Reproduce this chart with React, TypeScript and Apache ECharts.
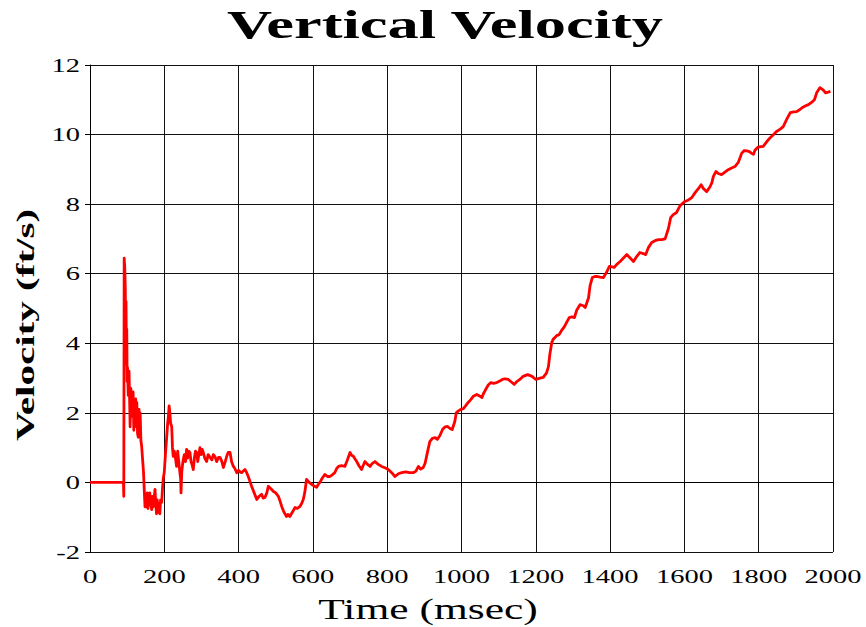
import React, { useEffect, useRef } from "react";
import * as echarts from "echarts";

const timeMs: number[] = [
  0, 90, 91, 92, 93.5, 95, 96, 97, 98, 99, 100, 101, 103, 105, 107, 108, 110, 112, 114, 116, 118, 119, 121,
  123, 124, 126, 128, 130, 132, 133, 135, 137, 139, 142, 144, 146, 148, 150, 152, 154, 156, 158, 161, 163,
  166, 168, 170, 172, 175, 177, 179, 181, 184, 186, 188, 190, 193, 195, 197, 200, 203, 206, 209, 211, 213,
  215, 217, 220, 222, 224, 227, 230, 233, 236, 239, 242, 244, 245, 247, 249, 251, 254, 257, 260, 263, 266,
  269, 272, 275, 278, 281, 284, 287, 290, 293, 296, 299, 302, 305, 309, 314, 318, 323, 328, 332, 336, 341,
  346, 350, 355, 359, 364, 368, 372, 377, 381, 386, 390, 395, 400, 404, 408, 412, 417, 421, 426, 430, 435,
  442, 449, 455, 462, 466, 471, 476, 480, 487, 494, 500, 507, 512, 516, 522, 529, 533, 538, 545, 552, 558,
  565, 570, 574, 578, 583, 590, 597, 603, 610, 615, 619, 625, 632, 639, 646, 652, 659, 664, 669, 677, 686,
  693, 700, 704, 709, 713, 718, 724, 731, 736, 740, 747, 754, 760, 767, 776, 785, 794, 803, 812, 821, 830,
  839, 850, 860, 870, 877, 884, 890, 897, 902, 906, 910, 915, 922, 929, 935, 942, 949, 956, 962, 969, 975,
  982, 986, 991, 998, 1005, 1011, 1018, 1025, 1032, 1041, 1050, 1055, 1059, 1065, 1072, 1079, 1086, 1095,
  1104, 1110, 1117, 1126, 1135, 1142, 1149, 1157, 1166, 1178, 1190, 1200, 1211, 1220, 1229, 1234, 1238,
  1243, 1247, 1252, 1256, 1263, 1270, 1277, 1283, 1290, 1297, 1304, 1310, 1319, 1328, 1333, 1337, 1342,
  1346, 1352, 1359, 1366, 1373, 1382, 1391, 1398, 1404, 1411, 1418, 1427, 1436, 1445, 1454, 1463, 1472,
  1480, 1489, 1496, 1503, 1512, 1521, 1530, 1539, 1548, 1557, 1563, 1570, 1579, 1588, 1600, 1611, 1620,
  1629, 1638, 1645, 1651, 1660, 1669, 1674, 1678, 1685, 1691, 1700, 1709, 1718, 1727, 1736, 1745, 1750,
  1754, 1761, 1768, 1775, 1781, 1786, 1790, 1797, 1803, 1812, 1822, 1831, 1840, 1848, 1857, 1866, 1876,
  1885, 1894, 1902, 1911, 1918, 1925, 1934, 1943, 1950, 1956, 1965, 1974, 1980, 1987, 1993, 2000,
];

const velocity: number[] = [
  0, 0, -0.4, 6.45, 6.2, 5.6, 4.1, 5.2, 3.4, 4.4, 2.9, 3.3, 2.5, 3.2, 2.2, 1.6, 2.7, 1.9, 2.4, 2.6, 1.5, 2.2, 1.6,
  2.4, 1.9, 2.3, 1.4, 1.3, 2.1, 1.5, 2.0, 1.2, 1.05, 0.6, 0.3, -0.2, -0.7, -0.4, -0.7, -0.3, -0.75, -0.4, -0.3, -0.6,
  -0.78, -0.4, -0.7, -0.5, -0.2, -0.6, -0.9, -0.5, -0.86, -0.6, -0.9, -0.5, -0.57, -0.2, 0.1, 0.3, 0.8, 1.24, 1.7, 1.9, 2.2,
  2.0, 1.7, 1.6, 1.0, 0.75, 0.9, 0.7, 0.46, 0.9, 0.6, 0.28, 0.1, -0.3, 0.3, 0.5, 0.66, 0.8, 0.6, 0.95, 0.7, 0.9,
  0.86, 0.6, 0.5, 0.37, 0.7, 0.9, 0.86, 0.6, 0.8, 1.0, 0.8, 0.95, 0.86, 0.7, 0.6, 0.8, 0.72, 0.65, 0.8, 0.75, 0.6,
  0.72, 0.72, 0.6, 0.43, 0.6, 0.75, 0.86, 0.86, 0.6, 0.46, 0.4, 0.28, 0.35, 0.3, 0.28, 0.32, 0.37, 0.3, 0.17, 0.05, -0.11,
  -0.3, -0.49, -0.4, -0.34, -0.45, -0.43, -0.3, -0.11, -0.18, -0.26, -0.3, -0.4, -0.55, -0.69, -0.85, -0.98, -0.92, -0.98, -0.85, -0.72, -0.75,
  -0.69, -0.6, -0.49, -0.3, 0.09, 0.0, -0.06, -0.1, -0.14, -0.05, 0, 0.12, 0.23, 0.17, 0.17, 0.22, 0.28, 0.4, 0.46, 0.48, 0.46,
  0.65, 0.86, 0.78, 0.75, 0.68, 0.6, 0.48, 0.37, 0.5, 0.6, 0.52, 0.46, 0.55, 0.6, 0.52, 0.46, 0.42, 0.37, 0.28, 0.17, 0.25,
  0.28, 0.3, 0.28, 0.28, 0.32, 0.46, 0.38, 0.43, 0.55, 0.75, 0.95, 1.18, 1.27, 1.29, 1.24, 1.35, 1.52, 1.6, 1.61, 1.55,
  1.52, 1.75, 2.0, 2.05, 2.1, 2.12, 2.2, 2.3, 2.38, 2.48, 2.53, 2.48, 2.44, 2.55, 2.67, 2.8, 2.87, 2.85,
  2.87, 2.92, 2.96, 2.98, 2.96, 2.88, 2.82, 2.9, 2.96, 3.05, 3.1, 3.05, 2.96, 3.0, 3.02, 3.15, 3.33,
  3.7, 4.02, 4.12, 4.17, 4.22, 4.25, 4.38, 4.48, 4.6, 4.74, 4.76, 4.74, 4.95, 5.11, 5.08, 5.03, 5.15,
  5.31, 5.65, 5.89, 5.92, 5.92, 5.9, 5.89, 6.05, 6.21, 6.2, 6.18, 6.27, 6.35, 6.45, 6.55, 6.45, 6.35,
  6.5, 6.61, 6.58, 6.55, 6.75, 6.9, 6.95, 6.98, 6.98, 7.0, 7.3, 7.61, 7.7, 7.76, 7.95, 8.07, 8.12,
  8.19, 8.33, 8.45, 8.56, 8.45, 8.36, 8.5, 8.62, 8.8, 8.94, 8.88, 8.85, 8.92, 8.99, 9.04, 9.08, 9.2,
  9.34, 9.46, 9.54, 9.53, 9.51, 9.46, 9.43, 9.55, 9.63, 9.65, 9.66, 9.8, 9.91, 10.0, 10.09, 10.15, 10.23,
  10.45, 10.63, 10.65, 10.66, 10.72, 10.78, 10.82, 10.86, 10.93, 11.0, 11.2, 11.35, 11.28, 11.2, 11.22, 11.24,
];

const xTicks: number[] = [0, 200, 400, 600, 800, 1000, 1200, 1400, 1600, 1800, 2000];
const yTicks: number[] = [-2, 0, 2, 4, 6, 8, 10, 12];

const titleText = "Vertical Velocity";
const xName = "Time (msec)";
const yName = "Velocity (ft/s)";

const SERIF = '"Liberation Serif", "Times New Roman", serif';

export default function App() {
  const ref = useRef<HTMLDivElement>(null);

  useEffect(() => {
    if (!ref.current) return;
    const chart = echarts.init(ref.current, null, { renderer: "svg" });
    const data = timeMs.map((t, i) => [t, velocity[i]]);

    chart.setOption({
      animation: false,
      backgroundColor: "#ffffff",
      grid: { left: 90, right: 33, top: 65, bottom: 75, containLabel: false },
      xAxis: {
        type: "value",
        min: 0,
        max: 2000,
        interval: 200,
        axisLine: { show: true, lineStyle: { color: "#000", width: 1 } },
        axisTick: { show: true, length: 4, lineStyle: { color: "#000" } },
        axisLabel: { show: false },
        splitLine: { show: true, lineStyle: { color: "#111", width: 1 } },
      },
      yAxis: {
        type: "value",
        min: -2,
        max: 12,
        interval: 2,
        axisLine: { show: true, lineStyle: { color: "#000", width: 1 } },
        axisTick: { show: true, length: 5, lineStyle: { color: "#000" } },
        axisLabel: { show: false },
        splitLine: { show: true, lineStyle: { color: "#111", width: 1 } },
      },
      series: [
        {
          type: "line",
          data,
          showSymbol: false,
          symbol: "none",
          lineStyle: { color: "#ff0000", width: 2.8, join: "round" },
          clip: true,
        },
      ],
    });

    const graphics: any[] = [];
    graphics.push({
      type: "text",
      x: 445,
      y: 24,
      scaleX: 1.56,
      style: {
        text: titleText,
        font: `bold 40px ${SERIF}`,
        lineHeight: 40,
        fill: "#000",
        align: "center",
        verticalAlign: "middle",
      },
    });
    graphics.push({
      type: "text",
      x: 428,
      y: 609,
      scaleX: 1.45,
      style: {
        text: xName,
        font: `30px ${SERIF}`,
        lineHeight: 30,
        fill: "#000",
        align: "center",
        verticalAlign: "middle",
      },
    });
    graphics.push({
      type: "text",
      x: 25,
      y: 325,
      rotation: Math.PI / 2,
      scaleX: 1.58,
      style: {
        text: yName,
        font: `bold 26px ${SERIF}`,
        lineHeight: 26,
        fill: "#000",
        align: "center",
        verticalAlign: "middle",
      },
    });
    xTicks.forEach((t) => {
      const p = chart.convertToPixel({ gridIndex: 0 }, [t, -2]) as number[];
      graphics.push({
        type: "text",
        x: p[0],
        y: p[1] + 24,
        scaleX: 1.5,
        style: {
          text: String(t),
          font: `19px ${SERIF}`,
          fill: "#000",
          align: "center",
          verticalAlign: "middle",
        },
      });
    });
    yTicks.forEach((v) => {
      const p = chart.convertToPixel({ gridIndex: 0 }, [0, v]) as number[];
      graphics.push({
        type: "text",
        x: p[0] - 10,
        y: p[1],
        scaleX: 1.5,
        style: {
          text: String(v),
          font: `19px ${SERIF}`,
          fill: "#000",
          align: "right",
          verticalAlign: "middle",
        },
      });
    });
    chart.setOption({ graphic: graphics });

    return () => chart.dispose();
  }, []);

  return (
    <div
      ref={ref}
      style={{ position: "fixed", left: 0, top: 0, width: 866, height: 627, background: "#fff" }}
    />
  );
}
